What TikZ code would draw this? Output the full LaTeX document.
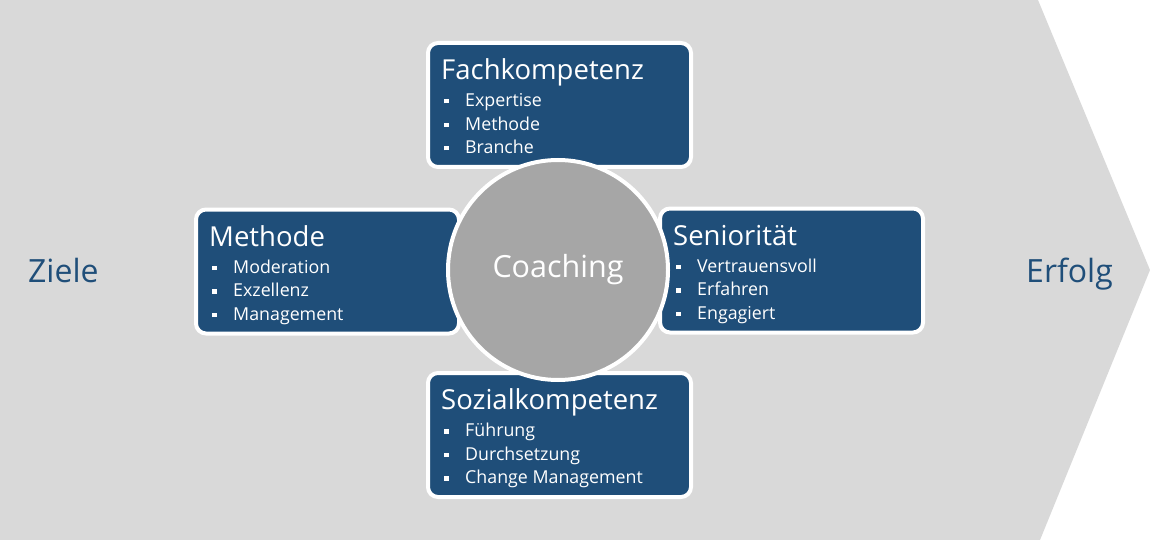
\documentclass[tikz,border=0pt]{standalone}
\usepackage{fontspec}
\setmainfont{Open Sans}
\usetikzlibrary{positioning}
\definecolor{boxblue}{RGB}{31,78,121}
\definecolor{bggray}{RGB}{217,217,217}
\definecolor{circgray}{RGB}{166,166,166}
\newcommand{\itm}[1]{\makebox[21pt][l]{\rule[3pt]{4.5pt}{4.5pt}}#1}
\begin{document}
\begin{tikzpicture}
        [
            x=1pt, y=-1pt,
            area/.style={draw=white, line width=4pt, fill=boxblue, rounded corners=10pt,
                minimum width=263pt, minimum height=124pt, inner sep=0pt},
            title/.style={text=white, font=\fontsize{27.5}{30}\selectfont, inner sep=0pt, anchor=base west},
            items/.style={text=white, font=\fontsize{17.8}{23.5}\selectfont, align=left, inner sep=0pt, anchor=base west},
            goal/.style={text=boxblue, font=\fontsize{32}{36}\selectfont, inner sep=0pt, anchor=base west},
        ]
        \useasboundingbox (0,0) rectangle (1150,540);
        \fill[bggray] (0,0) -- (1038,0) -- (1150,270) -- (1040,540) -- (0,540) -- cycle;
        \coordinate (mid) at (558,270);
        % four boxes round the circle
        \node[area] (fach) at ([shift={(1.5,-165)}]mid) {};
        \node[area] (methode) at ([shift={(-230.5,1.5)}]mid) {};
        \node[area] (senior) at ([shift={(233.5,0.5)}]mid) {};
        \node[area] (sozial) at ([shift={(1.5,165)}]mid) {};
        \node[title] (fach title) at ([shift={(15,38.5)}]fach.north west) {Fachkompetenz};
        \node[items] (fach list) at ([shift={(18,112.5)}]fach.north west)
            {\itm{Expertise}\\\itm{Methode}\\\itm{Branche}};
        \node[title] (methode title) at ([shift={(15,38.5)}]methode.north west) {Methode};
        \node[items] (methode list) at ([shift={(18,112.5)}]methode.north west)
            {\itm{Moderation}\\\itm{Exzellenz}\\\itm{Management}};
        \node[title] (senior title) at ([shift={(15,38.5)}]senior.north west) {Seniorität};
        \node[items] (senior list) at ([shift={(18,112.5)}]senior.north west)
            {\itm{Vertrauensvoll}\\\itm{Erfahren}\\\itm{Engagiert}};
        \node[title] (sozial title) at ([shift={(15,38.5)}]sozial.north west) {Sozialkompetenz};
        \node[items] (sozial list) at ([shift={(18,112.5)}]sozial.north west)
            {\itm{Führung}\\\itm{Durchsetzung}\\\itm{Change Management}};
        % centre
        \node[circle, draw=white, line width=4pt, fill=circgray, minimum size=220pt,
            text=white, font=\fontsize{30.5}{34}\selectfont] (coach) at (mid) {Coaching};
        \node[goal] (ziele) at (28,282) {Ziele};
        \node[goal] (erfolg) at (1026,282) {Erfolg};
    \end{tikzpicture}
\end{document}
